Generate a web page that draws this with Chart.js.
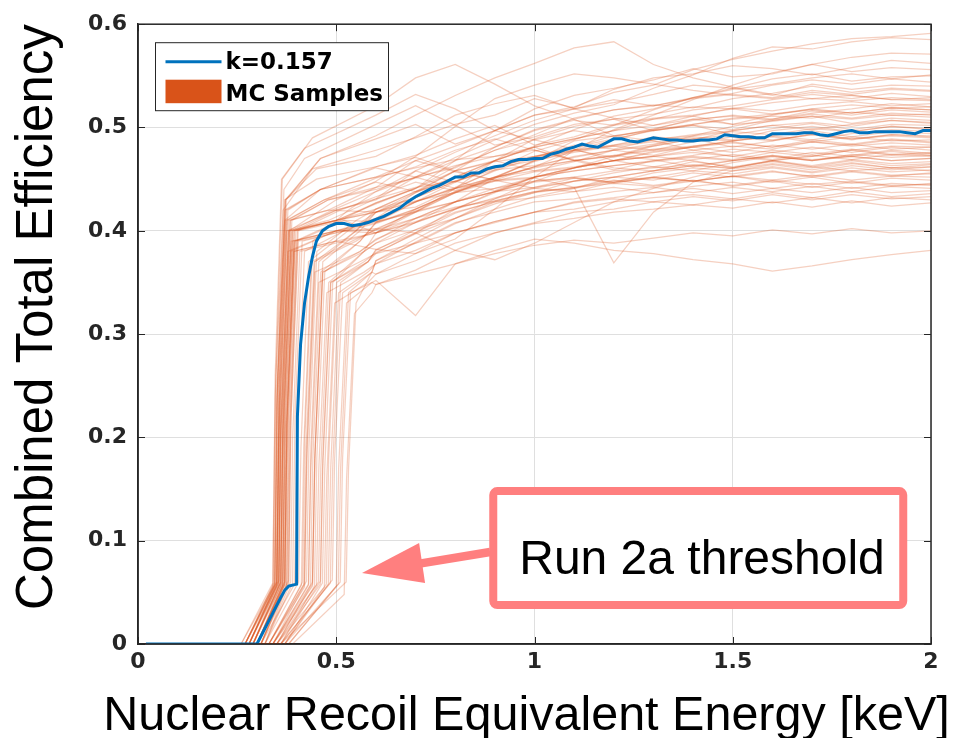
<!DOCTYPE html>
<html><head><meta charset="utf-8">
<script src="https://cdn.jsdelivr.net/npm/chart.js@4.4.1/dist/chart.umd.min.js"></script>
<style>html,body{margin:0;padding:0;background:#fff}#wrap{width:958px;height:738px}</style>
</head><body><div id="wrap"><canvas id="c" width="958" height="738"></canvas></div>
<script>
const xTickValues = [0, 0.5, 1, 1.5, 2];
const xTickLabels = ['0', '0.5', '1', '1.5', '2'];
const yTickValues = [0, 0.1, 0.2, 0.3, 0.4, 0.5, 0.6];
const yTickLabels = ['0', '0.1', '0.2', '0.3', '0.4', '0.5', '0.6'];
const xTitle = 'Nuclear Recoil Equivalent Energy [keV]';
const yTitle = 'Combined Total Efficiency';
const legendLabels = ['k=0.157', 'MC Samples'];
const annotationText = 'Run 2a threshold';

const blueX = [0.02,0.30,0.32,0.34,0.36,0.37,0.38,0.40,0.402,0.41,0.42,0.43,0.44,0.45,0.465,0.48,0.50,0.52,0.54,0.56,0.58,
0.60,0.62,0.64,0.66,0.68,0.70,0.72,0.74,0.76,0.78,0.80,0.82,0.84,0.86,0.88,0.90,0.92,0.94,0.96,0.98,
1.00,1.02,1.04,1.06,1.08,1.10,1.12,1.14,1.16,1.18,1.20,1.22,1.24,1.26,1.28,1.30,1.32,1.34,1.36,1.38,
1.40,1.42,1.44,1.46,1.48,1.50,1.52,1.54,1.56,1.58,1.60,1.62,1.64,1.66,1.68,1.70,1.72,1.74,1.76,1.78,
1.80,1.82,1.84,1.86,1.88,1.90,1.92,1.94,1.96,1.98,2.00];
const blueY = [0,0,0.015,0.030,0.045,0.052,0.056,0.058,0.22,0.29,0.33,0.355,0.375,0.39,0.40,0.404,0.407,0.407,0.405,0.406,0.408,
0.411,0.414,0.418,0.422,0.428,0.433,0.437,0.441,0.444,0.448,0.452,0.452,0.456,0.456,0.460,0.462,0.463,0.467,0.469,0.469,
0.470,0.470,0.474,0.476,0.479,0.481,0.484,0.482,0.481,0.485,0.489,0.489,0.487,0.486,0.488,0.490,0.489,0.488,0.488,0.487,
0.487,0.488,0.488,0.489,0.493,0.492,0.491,0.491,0.490,0.490,0.494,0.494,0.494,0.494,0.495,0.495,0.493,0.492,0.494,0.496,
0.497,0.495,0.495,0.496,0.496,0.496,0.496,0.495,0.494,0.497,0.497];

// MC samples: threshold part as (x,y) pairs, then plateau values on a shared x grid
const mcPlateauX = [0.6,0.7,0.8,0.9,1.0,1.1,1.2,1.3,1.4,1.5,1.6,1.7,1.8,1.9,2.0];
const mcRise = [
[0.27,0, 0.345,0.058, 0.350,0.23, 0.370,0.41, 0.46,0.44],
[0.28,0, 0.350,0.060, 0.355,0.20, 0.375,0.40, 0.50,0.42],
[0.26,0, 0.340,0.055, 0.346,0.24, 0.366,0.42, 0.44,0.46],
[0.29,0, 0.355,0.057, 0.360,0.21, 0.380,0.40, 0.50,0.41],
[0.27,0, 0.350,0.060, 0.356,0.25, 0.374,0.43, 0.46,0.47],
[0.30,0, 0.365,0.058, 0.370,0.22, 0.390,0.40, 0.50,0.41],
[0.28,0, 0.355,0.059, 0.360,0.20, 0.378,0.38, 0.50,0.40],
[0.29,0, 0.360,0.056, 0.366,0.23, 0.384,0.41, 0.48,0.43],
[0.31,0, 0.370,0.060, 0.375,0.21, 0.395,0.39, 0.50,0.40],
[0.27,0, 0.345,0.057, 0.352,0.26, 0.368,0.44, 0.42,0.47],
[0.30,0, 0.370,0.058, 0.376,0.22, 0.394,0.40, 0.50,0.42],
[0.32,0, 0.380,0.061, 0.385,0.21, 0.404,0.39, 0.52,0.40],
[0.28,0, 0.350,0.059, 0.357,0.24, 0.374,0.42, 0.46,0.44],
[0.29,0, 0.360,0.060, 0.365,0.20, 0.385,0.38, 0.50,0.40],
[0.31,0, 0.375,0.057, 0.380,0.22, 0.398,0.40, 0.50,0.41],
[0.27,0, 0.350,0.056, 0.356,0.25, 0.372,0.43, 0.45,0.46],
[0.30,0, 0.365,0.061, 0.372,0.21, 0.390,0.39, 0.50,0.40],
[0.28,0, 0.355,0.058, 0.360,0.22, 0.380,0.41, 0.48,0.42],
[0.32,0, 0.385,0.060, 0.390,0.20, 0.408,0.38, 0.52,0.39],
[0.29,0, 0.360,0.059, 0.366,0.23, 0.384,0.41, 0.48,0.42],
[0.30,0, 0.370,0.057, 0.376,0.22, 0.394,0.40, 0.50,0.41],
[0.27,0, 0.345,0.060, 0.350,0.24, 0.370,0.42, 0.46,0.44],
[0.31,0, 0.375,0.058, 0.382,0.21, 0.400,0.39, 0.52,0.41],
[0.28,0, 0.355,0.061, 0.362,0.22, 0.380,0.40, 0.48,0.41],
[0.30,0, 0.365,0.056, 0.370,0.23, 0.388,0.41, 0.48,0.43],
[0.29,0, 0.360,0.060, 0.366,0.21, 0.386,0.39, 0.50,0.40],
[0.26,0, 0.340,0.059, 0.346,0.26, 0.362,0.45, 0.42,0.48],
[0.31,0, 0.380,0.058, 0.386,0.22, 0.404,0.40, 0.52,0.41],
[0.28,0, 0.350,0.057, 0.356,0.23, 0.374,0.41, 0.47,0.43],
[0.30,0, 0.370,0.060, 0.376,0.21, 0.394,0.38, 0.50,0.39],
[0.29,0, 0.355,0.061, 0.360,0.24, 0.378,0.42, 0.46,0.44],
[0.32,0, 0.390,0.059, 0.396,0.22, 0.414,0.39, 0.52,0.40],
[0.27,0, 0.345,0.058, 0.352,0.25, 0.370,0.43, 0.45,0.45],
[0.30,0, 0.365,0.057, 0.372,0.22, 0.390,0.40, 0.50,0.41],
[0.33,0, 0.420,0.055, 0.426,0.18, 0.446,0.36, 0.56,0.38],
[0.34,0, 0.430,0.058, 0.436,0.17, 0.456,0.35, 0.56,0.37],
[0.35,0, 0.440,0.060, 0.446,0.18, 0.466,0.36, 0.57,0.38],
[0.34,0, 0.450,0.057, 0.456,0.17, 0.476,0.34, 0.57,0.36],
[0.36,0, 0.460,0.061, 0.466,0.18, 0.486,0.35, 0.58,0.37],
[0.35,0, 0.470,0.055, 0.476,0.16, 0.496,0.33, 0.58,0.35],
[0.37,0, 0.480,0.058, 0.486,0.17, 0.506,0.34, 0.58,0.36],
[0.36,0, 0.490,0.062, 0.496,0.18, 0.516,0.34, 0.59,0.36],
[0.38,0, 0.500,0.056, 0.506,0.17, 0.526,0.33, 0.59,0.35],
[0.38,0, 0.510,0.060, 0.516,0.18, 0.536,0.34, 0.59,0.35],
[0.39,0, 0.520,0.048, 0.526,0.16, 0.546,0.32, 0.59,0.34],
[0.36,0, 0.525,0.060, 0.531,0.17, 0.550,0.33, 0.59,0.36],
[0.33,0, 0.420,0.059, 0.426,0.19, 0.446,0.37, 0.55,0.40],
[0.34,0, 0.435,0.057, 0.441,0.18, 0.461,0.36, 0.56,0.39],
[0.35,0, 0.455,0.060, 0.461,0.17, 0.481,0.35, 0.57,0.38],
[0.37,0, 0.475,0.058, 0.481,0.18, 0.501,0.35, 0.58,0.37],
[0.34,0, 0.425,0.061, 0.431,0.19, 0.451,0.38, 0.55,0.41],
[0.36,0, 0.445,0.056, 0.451,0.18, 0.471,0.36, 0.56,0.39],
[0.37,0, 0.465,0.059, 0.471,0.17, 0.491,0.35, 0.57,0.38],
[0.33,0, 0.415,0.060, 0.421,0.20, 0.441,0.39, 0.53,0.42],
[0.35,0, 0.440,0.058, 0.446,0.18, 0.466,0.37, 0.56,0.40],
[0.34,0, 0.430,0.057, 0.436,0.19, 0.456,0.37, 0.55,0.40],
[0.27,0, 0.342,0.059, 0.348,0.26, 0.364,0.45, 0.44,0.49],
[0.29,0, 0.358,0.058, 0.364,0.22, 0.382,0.40, 0.50,0.43],
[0.30,0, 0.368,0.060, 0.374,0.21, 0.392,0.38, 0.50,0.39],
[0.33,0, 0.418,0.057, 0.424,0.19, 0.444,0.37, 0.55,0.39],
[0.28,0, 0.348,0.060, 0.354,0.25, 0.372,0.43, 0.46,0.47],
[0.31,0, 0.395,0.058, 0.401,0.20, 0.420,0.38, 0.52,0.40],
[0.32,0, 0.405,0.060, 0.411,0.19, 0.430,0.37, 0.53,0.40],
[0.33,0, 0.412,0.057, 0.418,0.19, 0.437,0.37, 0.54,0.39],
[0.36,0, 0.485,0.059, 0.491,0.17, 0.511,0.35, 0.58,0.37],
[0.37,0, 0.505,0.058, 0.511,0.17, 0.531,0.34, 0.59,0.36],
[0.29,0, 0.362,0.058, 0.368,0.22, 0.386,0.40, 0.49,0.42],
[0.30,0, 0.372,0.059, 0.378,0.21, 0.396,0.39, 0.51,0.41],
[0.28,0, 0.352,0.060, 0.358,0.23, 0.376,0.41, 0.47,0.43],
[0.34,0, 0.440,0.056, 0.446,0.18, 0.466,0.36, 0.56,0.38],
[0.35,0, 0.460,0.058, 0.466,0.17, 0.486,0.35, 0.57,0.37],
[0.31,0, 0.378,0.061, 0.384,0.22, 0.402,0.40, 0.51,0.42]
];
const mcPlateau = [
[0.452,0.468,0.482,0.497,0.512,0.520,0.534,0.541,0.556,0.566,0.574,0.581,0.586,0.588,0.591],
[0.430,0.452,0.471,0.488,0.503,0.514,0.522,0.538,0.551,0.567,0.578,0.576,0.583,0.587,0.585],
[0.478,0.490,0.503,0.512,0.528,0.519,0.537,0.548,0.552,0.560,0.557,0.551,0.558,0.565,0.562],
[0.426,0.441,0.468,0.497,0.518,0.531,0.538,0.546,0.557,0.549,0.552,0.561,0.554,0.558,0.556],
[0.489,0.503,0.484,0.497,0.512,0.518,0.524,0.532,0.541,0.538,0.547,0.552,0.545,0.549,0.550],
[0.418,0.433,0.452,0.468,0.482,0.498,0.511,0.518,0.529,0.533,0.541,0.546,0.542,0.547,0.544],
[0.412,0.437,0.458,0.481,0.497,0.507,0.502,0.517,0.529,0.538,0.531,0.542,0.537,0.541,0.540],
[0.440,0.452,0.461,0.478,0.493,0.509,0.517,0.522,0.519,0.528,0.533,0.540,0.534,0.538,0.536],
[0.402,0.418,0.441,0.459,0.477,0.488,0.502,0.508,0.517,0.521,0.527,0.532,0.528,0.533,0.530],
[0.503,0.521,0.502,0.483,0.491,0.503,0.508,0.513,0.520,0.518,0.524,0.528,0.526,0.529,0.527],
[0.431,0.458,0.447,0.468,0.481,0.489,0.497,0.508,0.511,0.519,0.516,0.522,0.525,0.521,0.523],
[0.407,0.421,0.437,0.452,0.468,0.481,0.489,0.497,0.503,0.509,0.513,0.518,0.522,0.519,0.520],
[0.462,0.473,0.489,0.502,0.483,0.491,0.503,0.509,0.512,0.518,0.513,0.517,0.514,0.519,0.517],
[0.398,0.412,0.428,0.451,0.468,0.487,0.492,0.498,0.503,0.508,0.511,0.509,0.515,0.512,0.513],
[0.427,0.441,0.458,0.467,0.472,0.481,0.492,0.497,0.502,0.498,0.507,0.511,0.508,0.512,0.510],
[0.472,0.491,0.512,0.523,0.531,0.518,0.509,0.502,0.511,0.503,0.506,0.511,0.504,0.509,0.507],
[0.409,0.428,0.442,0.458,0.471,0.477,0.483,0.491,0.488,0.497,0.502,0.505,0.501,0.507,0.505],
[0.418,0.423,0.441,0.468,0.489,0.501,0.508,0.497,0.502,0.493,0.499,0.504,0.498,0.503,0.502],
[0.398,0.421,0.438,0.451,0.462,0.472,0.478,0.484,0.491,0.488,0.497,0.501,0.496,0.501,0.499],
[0.442,0.468,0.457,0.449,0.462,0.478,0.471,0.482,0.489,0.487,0.492,0.497,0.491,0.496,0.494],
[0.421,0.432,0.448,0.459,0.463,0.471,0.478,0.482,0.489,0.481,0.487,0.493,0.488,0.493,0.491],
[0.452,0.461,0.469,0.472,0.478,0.468,0.473,0.479,0.482,0.487,0.491,0.486,0.491,0.487,0.488],
[0.398,0.409,0.421,0.437,0.452,0.461,0.468,0.472,0.478,0.482,0.479,0.486,0.483,0.488,0.485],
[0.431,0.442,0.448,0.439,0.452,0.461,0.468,0.477,0.481,0.476,0.483,0.479,0.484,0.479,0.481],
[0.442,0.451,0.463,0.472,0.481,0.468,0.459,0.468,0.473,0.479,0.476,0.481,0.476,0.481,0.478],
[0.408,0.419,0.428,0.441,0.452,0.458,0.463,0.468,0.472,0.469,0.476,0.472,0.478,0.473,0.475],
[0.512,0.532,0.518,0.497,0.488,0.479,0.468,0.472,0.468,0.461,0.468,0.473,0.469,0.474,0.472],
[0.409,0.418,0.437,0.451,0.462,0.468,0.473,0.469,0.462,0.468,0.473,0.468,0.472,0.468,0.470],
[0.451,0.462,0.478,0.489,0.478,0.469,0.461,0.458,0.467,0.462,0.468,0.463,0.469,0.465,0.467],
[0.398,0.408,0.421,0.432,0.441,0.448,0.452,0.458,0.463,0.461,0.467,0.462,0.468,0.463,0.465],
[0.461,0.452,0.441,0.448,0.451,0.442,0.369,0.418,0.447,0.458,0.462,0.457,0.463,0.459,0.462],
[0.401,0.412,0.423,0.429,0.438,0.441,0.448,0.452,0.458,0.455,0.461,0.456,0.461,0.457,0.459],
[0.462,0.471,0.458,0.449,0.441,0.438,0.447,0.452,0.448,0.453,0.458,0.452,0.457,0.453,0.456],
[0.418,0.429,0.437,0.441,0.448,0.452,0.447,0.451,0.448,0.453,0.449,0.454,0.449,0.453,0.452],
[0.391,0.412,0.428,0.438,0.447,0.451,0.446,0.452,0.448,0.453,0.447,0.452,0.446,0.451,0.449],
[0.378,0.398,0.417,0.429,0.438,0.442,0.449,0.444,0.449,0.443,0.448,0.442,0.447,0.443,0.446],
[0.388,0.401,0.412,0.428,0.432,0.438,0.442,0.437,0.443,0.447,0.441,0.446,0.441,0.446,0.444],
[0.368,0.389,0.408,0.418,0.428,0.431,0.438,0.442,0.437,0.442,0.438,0.443,0.438,0.443,0.441],
[0.378,0.388,0.398,0.409,0.418,0.428,0.432,0.437,0.441,0.436,0.441,0.437,0.442,0.437,0.439],
[0.358,0.378,0.398,0.408,0.418,0.421,0.428,0.432,0.435,0.431,0.437,0.432,0.438,0.433,0.436],
[0.368,0.381,0.398,0.409,0.418,0.427,0.431,0.428,0.433,0.429,0.435,0.430,0.435,0.431,0.433],
[0.358,0.371,0.388,0.398,0.408,0.418,0.421,0.428,0.425,0.431,0.427,0.432,0.427,0.432,0.430],
[0.348,0.362,0.381,0.398,0.407,0.412,0.418,0.421,0.425,0.422,0.428,0.423,0.429,0.424,0.427],
[0.352,0.318,0.368,0.378,0.386,0.391,0.388,0.393,0.398,0.395,0.401,0.397,0.402,0.398,0.400],
[0.348,0.358,0.368,0.381,0.392,0.388,0.381,0.378,0.372,0.368,0.361,0.366,0.372,0.377,0.381],
[0.371,0.392,0.412,0.431,0.448,0.461,0.472,0.483,0.492,0.501,0.508,0.514,0.518,0.523,0.520],
[0.418,0.432,0.448,0.461,0.472,0.478,0.483,0.488,0.492,0.496,0.493,0.499,0.496,0.501,0.498],
[0.408,0.421,0.438,0.449,0.452,0.458,0.463,0.467,0.471,0.468,0.473,0.469,0.472,0.468,0.470],
[0.398,0.418,0.428,0.438,0.442,0.448,0.452,0.449,0.456,0.452,0.457,0.453,0.458,0.454,0.455],
[0.381,0.401,0.418,0.428,0.437,0.442,0.446,0.443,0.448,0.444,0.449,0.445,0.448,0.444,0.445],
[0.421,0.438,0.458,0.468,0.481,0.489,0.497,0.502,0.508,0.511,0.507,0.513,0.509,0.514,0.512],
[0.408,0.428,0.441,0.452,0.461,0.468,0.472,0.478,0.481,0.485,0.481,0.486,0.482,0.485,0.483],
[0.388,0.408,0.428,0.438,0.448,0.452,0.458,0.461,0.464,0.460,0.465,0.461,0.466,0.461,0.462],
[0.438,0.452,0.468,0.481,0.498,0.508,0.517,0.521,0.528,0.532,0.529,0.536,0.532,0.537,0.535],
[0.418,0.428,0.441,0.452,0.458,0.462,0.468,0.472,0.476,0.472,0.478,0.474,0.479,0.474,0.476],
[0.421,0.438,0.448,0.461,0.472,0.478,0.482,0.486,0.489,0.493,0.488,0.493,0.489,0.492,0.490],
[0.521,0.548,0.561,0.542,0.521,0.508,0.492,0.487,0.478,0.472,0.468,0.462,0.458,0.461,0.458],
[0.448,0.472,0.501,0.528,0.541,0.552,0.548,0.542,0.536,0.531,0.528,0.534,0.531,0.527,0.529],
[0.382,0.378,0.392,0.421,0.452,0.478,0.498,0.512,0.527,0.541,0.553,0.561,0.568,0.572,0.571],
[0.402,0.398,0.381,0.372,0.388,0.408,0.428,0.441,0.452,0.461,0.468,0.472,0.478,0.482,0.481],
[0.492,0.512,0.531,0.548,0.562,0.577,0.583,0.561,0.548,0.539,0.532,0.528,0.531,0.527,0.526],
[0.412,0.428,0.447,0.462,0.471,0.483,0.479,0.488,0.493,0.497,0.502,0.498,0.503,0.507,0.504],
[0.418,0.437,0.452,0.468,0.458,0.467,0.478,0.473,0.482,0.486,0.481,0.488,0.484,0.489,0.486],
[0.401,0.419,0.437,0.448,0.457,0.461,0.468,0.462,0.469,0.474,0.469,0.476,0.472,0.477,0.473],
[0.382,0.398,0.421,0.438,0.452,0.461,0.468,0.476,0.481,0.487,0.492,0.488,0.494,0.498,0.496],
[0.371,0.388,0.407,0.421,0.433,0.441,0.452,0.458,0.463,0.468,0.472,0.468,0.474,0.471,0.473],
[0.438,0.458,0.476,0.492,0.507,0.518,0.527,0.521,0.529,0.537,0.542,0.548,0.552,0.547,0.551],
[0.427,0.441,0.462,0.478,0.488,0.497,0.491,0.499,0.507,0.512,0.508,0.516,0.512,0.517,0.515],
[0.447,0.438,0.452,0.461,0.468,0.476,0.482,0.478,0.486,0.491,0.487,0.494,0.489,0.493,0.492],
[0.392,0.408,0.422,0.431,0.442,0.451,0.447,0.456,0.461,0.458,0.464,0.459,0.465,0.461,0.464],
[0.379,0.397,0.412,0.426,0.437,0.448,0.456,0.462,0.458,0.466,0.472,0.468,0.473,0.478,0.475],
[0.433,0.447,0.439,0.452,0.467,0.478,0.488,0.498,0.508,0.503,0.512,0.518,0.514,0.519,0.517]
];
const mcStartX = 0.02;

// annotation anchor points in data units
const noteBox = [0.896, 0.148, 1.930, 0.0377];   // x1, y1, x2, y2
const noteTextAt = [1.4225, 0.0677];
const arrowShaft = [0.888, 0.089, 0.714, 0.078];
const arrowHead = [0.565, 0.0687, 0.709, 0.0977, 0.724, 0.059];

const BLUE = 'rgb(0,114,189)';
const ORANGE = 'rgb(217,83,25)';
const ORANGE_T = 'rgba(217,83,25,0.27)';
const AXIS = '#262626';
const SALMON = '#FF7F7F';
const TITLE_FONT = '48.5px "Liberation Sans", Arial, sans-serif';

const datasets = [];
datasets.push({
  label: legendLabels[0],
  data: blueX.map((x, i) => ({x, y: blueY[i]})),
  borderColor: BLUE, borderWidth: 3, pointRadius: 0, showLine: true, order: 0, tension: 0
});
mcRise.forEach((r, k) => {
  const pts = [{x: mcStartX, y: 0}];
  for (let j = 0; j < r.length; j += 2) pts.push({x: r[j], y: r[j + 1]});
  mcPlateauX.forEach((x, j) => pts.push({x, y: mcPlateau[k][j]}));
  datasets.push({
    label: legendLabels[1], data: pts, borderColor: ORANGE_T, borderWidth: 1.25,
    pointRadius: 0, showLine: true, order: 1, tension: 0
  });
});

const framePlugin = {
  id: 'frame',
  afterDatasetsDraw(chart) {
    const {ctx, chartArea: a, scales: {x, y}} = chart;
    ctx.save();
    ctx.strokeStyle = AXIS; ctx.lineWidth = 1.5;
    ctx.strokeRect(a.left, a.top, a.right - a.left, a.bottom - a.top);
    ctx.lineWidth = 1;
    xTickValues.forEach(v => {
      const px = Math.round(x.getPixelForValue(v)) + 0.5;
      ctx.beginPath(); ctx.moveTo(px, a.bottom); ctx.lineTo(px, a.bottom - 7);
      ctx.moveTo(px, a.top); ctx.lineTo(px, a.top + 7); ctx.stroke();
    });
    yTickValues.forEach(v => {
      const py = Math.round(y.getPixelForValue(v)) + 0.5;
      ctx.beginPath(); ctx.moveTo(a.left, py); ctx.lineTo(a.left + 7, py);
      ctx.moveTo(a.right, py); ctx.lineTo(a.right - 7, py); ctx.stroke();
    });
    // x axis title
    ctx.fillStyle = '#000'; ctx.font = TITLE_FONT;
    ctx.textAlign = 'center'; ctx.textBaseline = 'alphabetic';
    ctx.fillText(xTitle, (a.left + a.right) / 2 - 8, chart.height - 8);
    // legend
    const lx = a.left + 17.5, ly = a.top + 18.5, lw = 233, lh = 68;
    ctx.fillStyle = '#fff'; ctx.fillRect(lx, ly, lw, lh);
    ctx.strokeStyle = AXIS; ctx.lineWidth = 1; ctx.strokeRect(lx, ly, lw, lh);
    ctx.strokeStyle = BLUE; ctx.lineWidth = 3;
    ctx.beginPath(); ctx.moveTo(lx + 10, ly + 19); ctx.lineTo(lx + 66, ly + 19); ctx.stroke();
    ctx.fillStyle = ORANGE; ctx.fillRect(lx + 10, ly + 37, 56, 23.5);
    ctx.fillStyle = '#000'; ctx.font = 'bold 23px "DejaVu Sans"';
    ctx.textAlign = 'left'; ctx.textBaseline = 'alphabetic';
    ctx.fillText(legendLabels[0], lx + 70, ly + 26);
    ctx.fillText(legendLabels[1], lx + 70, ly + 58.5);
    // annotation arrow
    ctx.strokeStyle = SALMON; ctx.fillStyle = SALMON;
    ctx.lineWidth = 8.5;
    ctx.beginPath();
    ctx.moveTo(x.getPixelForValue(arrowShaft[0]), y.getPixelForValue(arrowShaft[1]));
    ctx.lineTo(x.getPixelForValue(arrowShaft[2]), y.getPixelForValue(arrowShaft[3]));
    ctx.stroke();
    ctx.beginPath();
    ctx.moveTo(x.getPixelForValue(arrowHead[0]), y.getPixelForValue(arrowHead[1]));
    ctx.lineTo(x.getPixelForValue(arrowHead[2]), y.getPixelForValue(arrowHead[3]));
    ctx.lineTo(x.getPixelForValue(arrowHead[4]), y.getPixelForValue(arrowHead[5]));
    ctx.closePath(); ctx.fill();
    // annotation box
    const bx1 = x.getPixelForValue(noteBox[0]), by1 = y.getPixelForValue(noteBox[1]);
    const bx2 = x.getPixelForValue(noteBox[2]), by2 = y.getPixelForValue(noteBox[3]);
    ctx.fillStyle = '#fff';
    ctx.beginPath(); ctx.roundRect(bx1, by1, bx2 - bx1, by2 - by1, 4); ctx.fill();
    ctx.lineWidth = 8; ctx.strokeStyle = SALMON; ctx.stroke();
    ctx.fillStyle = '#000'; ctx.font = '48px "Liberation Sans", Arial, sans-serif';
    ctx.textAlign = 'center'; ctx.textBaseline = 'alphabetic';
    ctx.fillText(annotationText, x.getPixelForValue(noteTextAt[0]), y.getPixelForValue(noteTextAt[1]));
    ctx.restore();
  }
};

new Chart(document.getElementById('c'), {
  type: 'scatter',
  data: {datasets},
  options: {
    responsive: false, animation: false, devicePixelRatio: 1,
    layout: {padding: {top: 24, right: 27, left: 0, bottom: 0}},
    plugins: {legend: {display: false}, tooltip: {enabled: false}},
    scales: {
      x: {
        type: 'linear', min: 0, max: 2,
        afterFit(s) { s.height = 94; },
        afterBuildTicks(s) { s.ticks = xTickValues.map(v => ({value: v})); },
        ticks: {
          padding: 5, color: AXIS, font: {family: 'DejaVu Sans', weight: 'bold', size: 22},
          callback: (v) => xTickLabels[xTickValues.indexOf(v)] ?? ''
        },
        grid: {color: '#dfdfdf', lineWidth: 1, drawTicks: false},
        border: {display: true, color: AXIS, width: 1.5},
        title: {display: false, text: xTitle}
      },
      y: {
        type: 'linear', min: 0, max: 0.6,
        afterFit(s) { s.width = 138; },
        afterBuildTicks(s) { s.ticks = yTickValues.map(v => ({value: v})); },
        ticks: {
          padding: 11, color: AXIS, font: {family: 'DejaVu Sans', weight: 'bold', size: 22},
          callback: (v) => yTickLabels[yTickValues.indexOf(v)] ?? ''
        },
        grid: {color: '#dfdfdf', lineWidth: 1, drawTicks: false},
        border: {display: true, color: AXIS, width: 1.5},
        title: {display: true, text: yTitle, color: '#000', align: 'end',
          font: {family: '"Liberation Sans", Arial, sans-serif', size: 51, lineHeight: 1},
          padding: {top: 12, bottom: 0}}
      }
    }
  },
  plugins: [framePlugin]
});
</script></body></html>
